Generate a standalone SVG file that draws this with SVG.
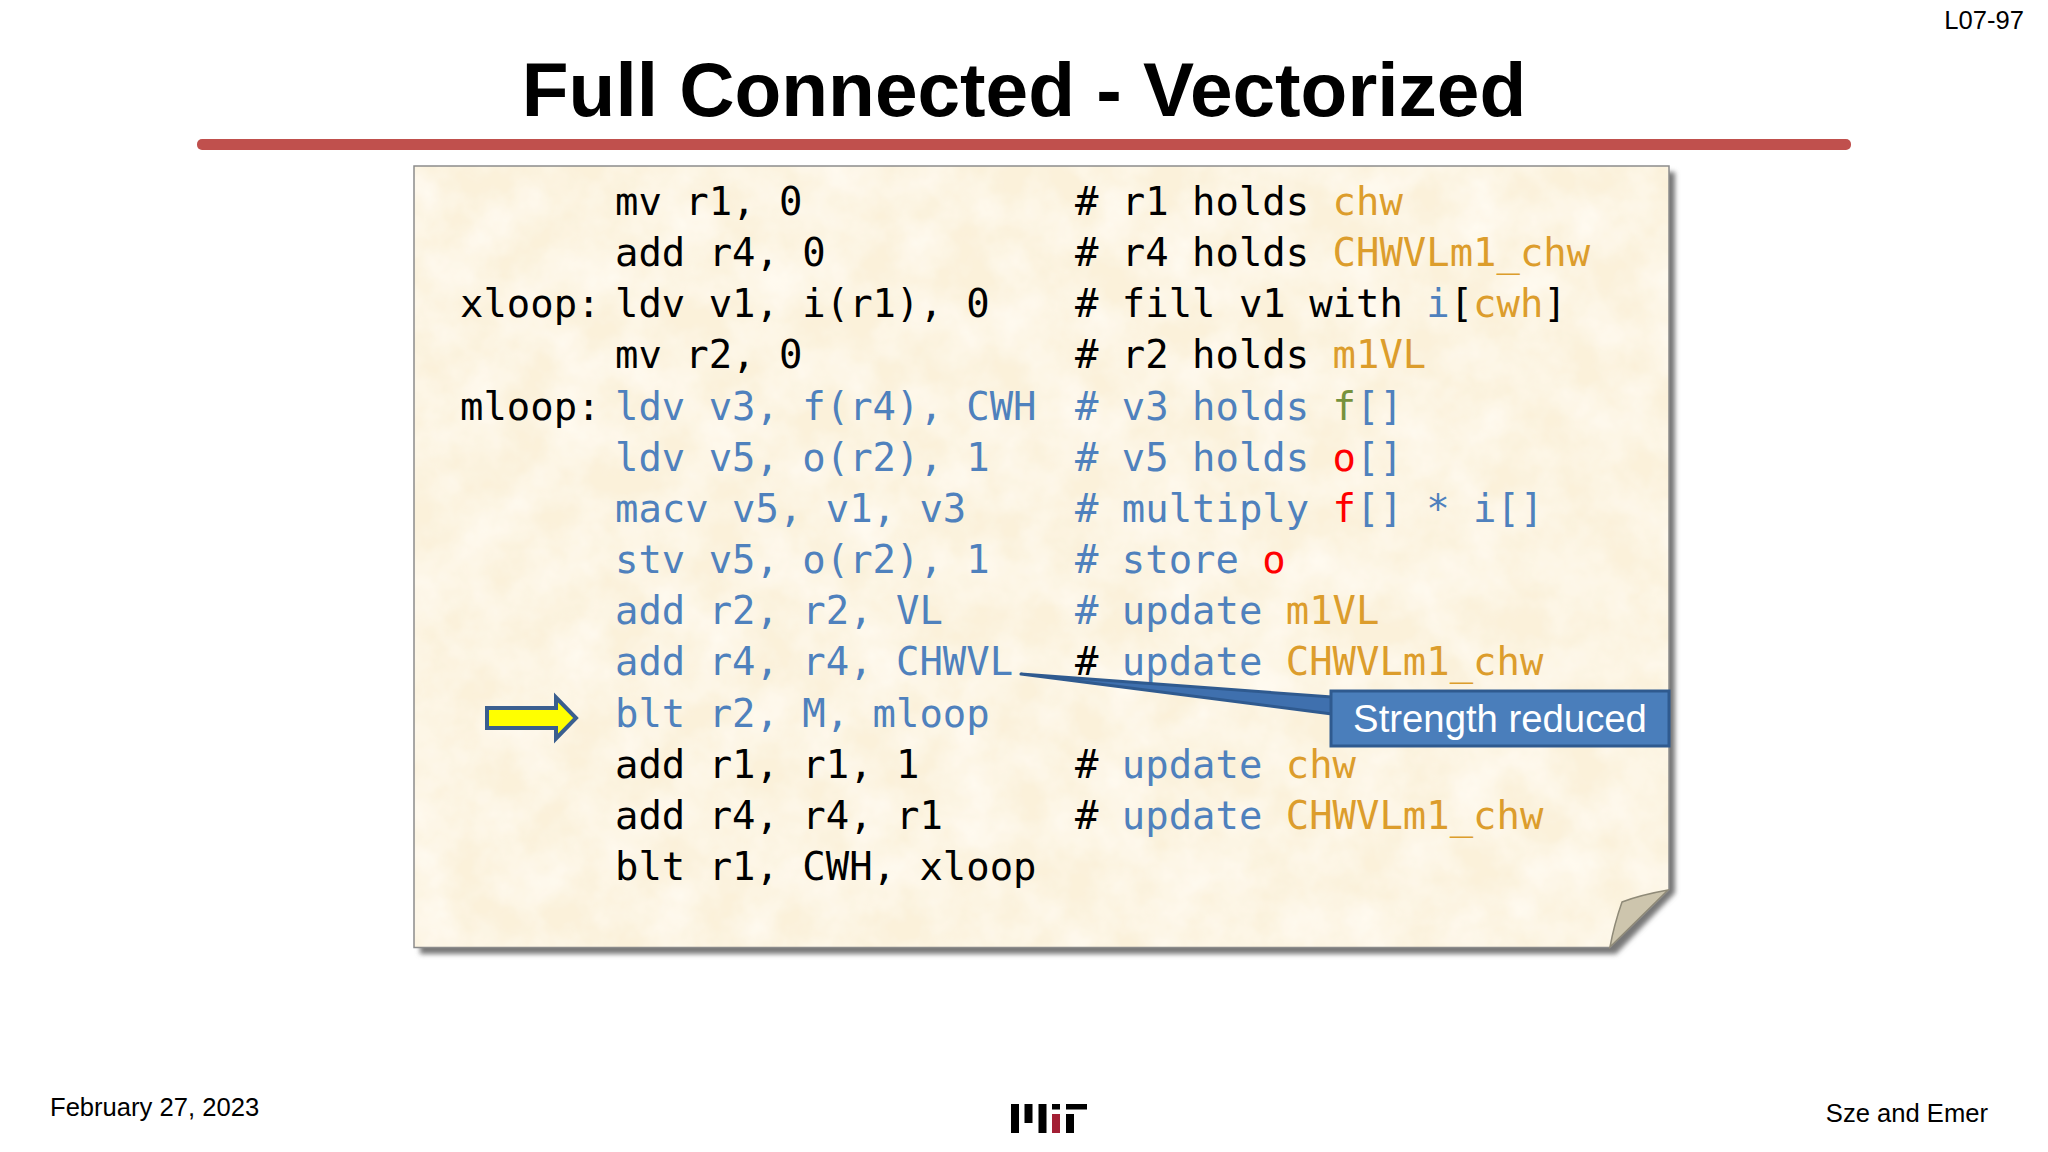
<svg xmlns="http://www.w3.org/2000/svg" width="2048" height="1152" viewBox="0 0 2048 1152">
<style>
.s{font-family:"Liberation Sans",Arial,sans-serif}
.c{font-family:"DejaVu Sans Mono","Liberation Mono",monospace;font-size:38.9px;fill:#000;white-space:pre}
.b{fill:#4f81bd}.o{fill:#dc9d2c}.g{fill:#76923c}.r{fill:#f00}.k{fill:#000}
.mit{fill:#000}
</style>
<defs>
<filter id="parch" x="0" y="0" width="100%" height="100%">
<feTurbulence type="fractalNoise" baseFrequency="0.02" numOctaves="4" seed="7" result="n"/>
<feColorMatrix in="n" type="matrix" values="0 0 0 0 1  0 0 0 0 0.965  0 0 0 0 0.89  1.5 0 0 0 -0.4" result="t"/>
<feComposite in="t" in2="SourceAlpha" operator="in" result="tt"/>
<feMerge><feMergeNode in="SourceGraphic"/><feMergeNode in="tt"/></feMerge>
</filter>
<filter id="sh" x="-2%" y="-2%" width="104%" height="104%"><feGaussianBlur stdDeviation="2.5"/></filter>
</defs>
<rect width="2048" height="1152" fill="#fff"/>
<text id="page" class="s" x="2024" y="29" font-size="25.6" text-anchor="end">L07-97</text>
<text id="title" class="s" x="1024" y="116" font-size="76.6" font-weight="700" text-anchor="middle">Full Connected - Vectorized</text>
<rect id="rule" x="197" y="139" width="1654" height="11" rx="5" fill="#c0504d"/>
<g id="paper">
<path d="M420,172H1675V893L1616,954H420Z" fill="#777" filter="url(#sh)"/>
<path d="M414,166H1669V890L1610,947.5H414Z" fill="#fbf1da" filter="url(#parch)"/>
<path d="M414,166H1669V890L1610,947.5H414Z" fill="none" stroke="#8c8c8c" stroke-width="1.5"/>
<path d="M1668,890Q1640,895 1622,902Q1614,925 1610,947Z" fill="#cdc5ad" stroke="#8f8a78" stroke-width="1.5"/>
</g>
<g id="code" xml:space="preserve">
<text class="c" x="615" y="215">mv r1, 0</text>
<text class="c" x="615" y="266">add r4, 0</text>
<text class="c" x="460" y="317">xloop:</text>
<text class="c" x="615" y="317">ldv v1, i(r1), 0</text>
<text class="c" x="615" y="368">mv r2, 0</text>
<text class="c" x="460" y="419.5">mloop:</text>
<text class="c b" x="615" y="419.5">ldv v3, f(r4), CWH</text>
<text class="c b" x="615" y="471">ldv v5, o(r2), 1</text>
<text class="c b" x="615" y="522">macv v5, v1, v3</text>
<text class="c b" x="615" y="573">stv v5, o(r2), 1</text>
<text class="c b" x="615" y="624">add r2, r2, VL</text>
<text class="c b" x="615" y="675">add r4, r4, CHWVL</text>
<text class="c b" x="615" y="727">blt r2, M, mloop</text>
<text class="c" x="615" y="778">add r1, r1, 1</text>
<text class="c" x="615" y="829">add r4, r4, r1</text>
<text class="c" x="615" y="880">blt r1, CWH, xloop</text>
</g>
<g id="comments" xml:space="preserve">
<text class="c" x="1075" y="215"># r1 holds <tspan class="o">chw</tspan></text>
<text class="c" x="1075" y="266"># r4 holds <tspan class="o">CHWVLm1_chw</tspan></text>
<text class="c" x="1075" y="317"># fill v1 with <tspan class="b">i</tspan>[<tspan class="o">cwh</tspan>]</text>
<text class="c" x="1075" y="368"># r2 holds <tspan class="o">m1VL</tspan></text>
<text class="c b" x="1075" y="419.5"># v3 holds <tspan class="g">f</tspan>[]</text>
<text class="c b" x="1075" y="471"># v5 holds <tspan class="r">o</tspan>[]</text>
<text class="c b" x="1075" y="522"># multiply <tspan class="r">f</tspan>[] * i[]</text>
<text class="c b" x="1075" y="573"># store <tspan class="r">o</tspan></text>
<text class="c b" x="1075" y="624"># update <tspan class="o">m1VL</tspan></text>
<text class="c" x="1075" y="675">#<tspan class="b"> update </tspan><tspan class="o">CHWVLm1_chw</tspan></text>
<text class="c" x="1075" y="778">#<tspan class="b"> update </tspan><tspan class="o">chw</tspan></text>
<text class="c" x="1075" y="829">#<tspan class="b"> update </tspan><tspan class="o">CHWVLm1_chw</tspan></text>
</g>
<g id="pointer">
<path d="M487,708H556V697.5L576,718L556,738.5V728H487Z" fill="#ff0" stroke="#3a5f8f" stroke-width="4"/>
</g>
<g id="callout">
<path d="M1021,674L1332,697V714Z" fill="#3f70ae" stroke="#2f5a8f" stroke-width="3" stroke-linejoin="round"/>
<rect x="1331" y="691" width="338" height="55" fill="#4a7ebb" stroke="#2f5a8f" stroke-width="3"/>
<text class="s" x="1500" y="732" font-size="38.3" fill="#fff" text-anchor="middle">Strength reduced</text>
</g>
<g id="footer">
<text class="s" x="50" y="1116" font-size="25.6">February 27, 2023</text>
<text class="s" x="1988" y="1122" font-size="25.6" text-anchor="end">Sze and Emer</text>
</g>
<g id="mit-logo">
<rect class="mit" x="1011" y="1104" width="8" height="29"/>
<rect class="mit" x="1024.5" y="1104" width="8" height="19"/>
<rect class="mit" x="1038.5" y="1104" width="8" height="29"/>
<rect class="mit" x="1052" y="1104" width="8" height="5.5"/>
<rect x="1052" y="1114" width="8" height="19" fill="#a31f34"/>
<rect class="mit" x="1066" y="1104" width="21" height="5.5"/>
<rect class="mit" x="1066" y="1114" width="8" height="19"/>
</g>
</svg>
